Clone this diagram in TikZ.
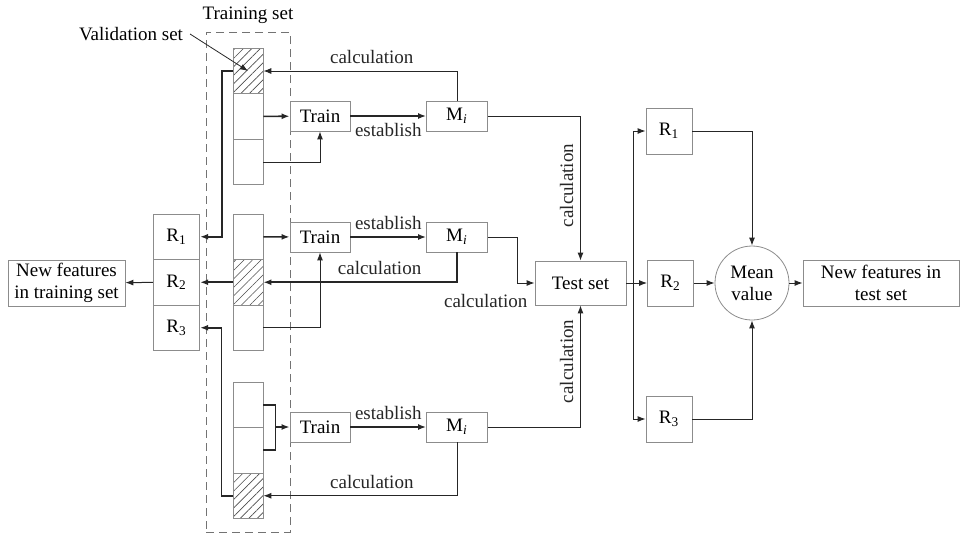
\documentclass[tikz,border=0pt]{standalone}
\usepackage{fontspec}
\setmainfont{Liberation Serif}
\usetikzlibrary{arrows.meta,patterns.meta}

\begin{document}
\begin{tikzpicture}[x=0.5pt,y=-0.5pt,
  every node/.style={font=\fontsize{9.5}{11}\selectfont},
  box/.style={draw=black!45,line width=0.4pt,minimum height=15pt,inner sep=1pt},
  cell/.style={draw=black!45,line width=0.4pt,minimum width=15pt,minimum height=22.75pt,inner sep=0pt},
  hatch/.style={cell,pattern={Lines[angle=45,distance=3pt,line width=0.3pt]},pattern color=black!70},
  arr/.style={-{Latex[length=4pt,width=3pt]},line width=0.5pt,black!85},
  tarr/.style={arr,line width=0.8pt},
  link/.style={line width=0.8pt,black!85}]
  \useasboundingbox (0,0) rectangle (960,538);
  % training set frame
  \node[draw=black!55,line width=0.4pt,dash pattern=on 4pt off 2.5pt,minimum width=42pt,minimum height=250pt,inner sep=0pt] (frame) at (248,282) {};
  \node (trset) at (248,15) {Training set};
  \node (valid) at (131,34) {Validation set};
  % folds
  \node[hatch] (a1) at (248,71) {};
  \node[cell] (a2) at (248,116.5) {};
  \node[cell] (a3) at (248,162) {};
  \node[cell] (b1) at (248,236.75) {};
  \node[hatch] (b2) at (248,282.25) {};
  \node[cell] (b3) at (248,327.75) {};
  \node[cell] (c1) at (248,404.75) {};
  \node[cell] (c2) at (248,450.25) {};
  \node[hatch] (c3) at (248,495.75) {};
  \draw[arr,line width=0.4pt] (valid.east) -- (a1.center);
  % models
  \node[box,minimum width=30pt] (t1) at (320,116) {Train};
  \node[box,minimum width=30pt] (t2) at (320,237) {Train};
  \node[box,minimum width=30pt] (t3) at (320,427) {Train};
  \node[box,minimum width=30.5pt] (m1) at (457,116) {M\textsubscript{\textit{i}}};
  \node[box,minimum width=30.5pt] (m2) at (457,237) {M\textsubscript{\textit{i}}};
  \node[box,minimum width=30.5pt] (m3) at (457,427) {M\textsubscript{\textit{i}}};
  % results on training set
  \node[box,minimum width=23.25pt,minimum height=22.75pt] (r1) at (176.5,236.75) {R\textsubscript{1}};
  \node[box,minimum width=23.25pt,minimum height=22.75pt] (r2) at (176.5,282.25) {R\textsubscript{2}};
  \node[box,minimum width=23.25pt,minimum height=22.75pt] (r3) at (176.5,327.75) {R\textsubscript{3}};
  \node[box,minimum width=58.5pt,minimum height=23pt,align=center,inner sep=0pt] (newtr) at (66.5,283) {New features\\in training set};
  % test side
  \node[box,minimum width=45.5pt,minimum height=22pt] (test) at (580.5,283) {Test set};
  \node[box,minimum width=23pt,minimum height=23pt] (q1) at (669,131) {R\textsubscript{1}};
  \node[box,minimum width=23pt,minimum height=23pt] (q2) at (670.5,283) {R\textsubscript{2}};
  \node[box,minimum width=23pt,minimum height=23pt] (q3) at (669,419) {R\textsubscript{3}};
  \node[circle,draw=black!45,line width=0.4pt,minimum size=37pt,inner sep=0pt,align=center] (mean) at (752,283) {Mean\\value};
  \node[box,minimum width=78pt,minimum height=23pt,align=center,inner sep=0pt] (newte) at (881,283) {New features in\\test set};

  % first fold
  \draw[tarr] (a2) -- (t1);
  \draw[arr] (a3.east) -| (t1.south);
  \draw[tarr] (t1) -- node[below] (e1) {establish} (m1);
  \draw[arr] (m1.north) |- node[pos=0.72,above] (l1) {calculation} (a1.east);
  \draw[tarr] (a1.west) -- ++(-11,0) |- (r1.east);
  % second fold
  \draw[tarr] (b1) -- (t2);
  \draw[arr] (b3.east) -| (t2.south);
  \draw[tarr] (t2) -- node[above] (e2) {establish} (m2);
  \draw[tarr] (m2.south) |- node[pos=0.7,above] (l2) {calculation} (b2.east);
  \draw[tarr] (b2) -- (r2);
  \draw[arr] (r2) -- (newtr);
  % third fold
  \draw[link] (c1.east) -- ++(12,0) coordinate (br) |- (c2.east);
  \draw[tarr] (br |- t3) -- (t3.west);
  \draw[tarr] (t3) -- node[above] (e3) {establish} (m3);
  \draw[arr] (m3.south) |- node[pos=0.72,above] (l3) {calculation} (c3.east);
  \draw[tarr] (c3.west) -- ++(-11,0) |- (r3.east);
  % models on test set
  \draw[arr] (m1.east) -| node[pos=0.74,rotate=90,anchor=south] (l4) {calculation} (test.north);
  \draw[arr] (m3.east) -| node[pos=0.77,rotate=90,anchor=south] (l5) {calculation} (test.south);
  \draw[arr] (m2.east) -- ++(30,0) |- node[pos=1,below left,yshift=-2pt] (l6) {calculation} (test.west);
  % averaging
  \draw[arr] (test) -- (q2);
  \draw[arr] (test.east) ++(7,0) coordinate (sp) |- (q1.west);
  \draw[arr] (sp) |- (q3.west);
  \draw[arr] (q1.east) -| (mean.north);
  \draw[arr] (q3.east) -| (mean.south);
  \draw[arr] (q2) -- (mean);
  \draw[arr] (mean) -- (newte);
\end{tikzpicture}
\end{document}
